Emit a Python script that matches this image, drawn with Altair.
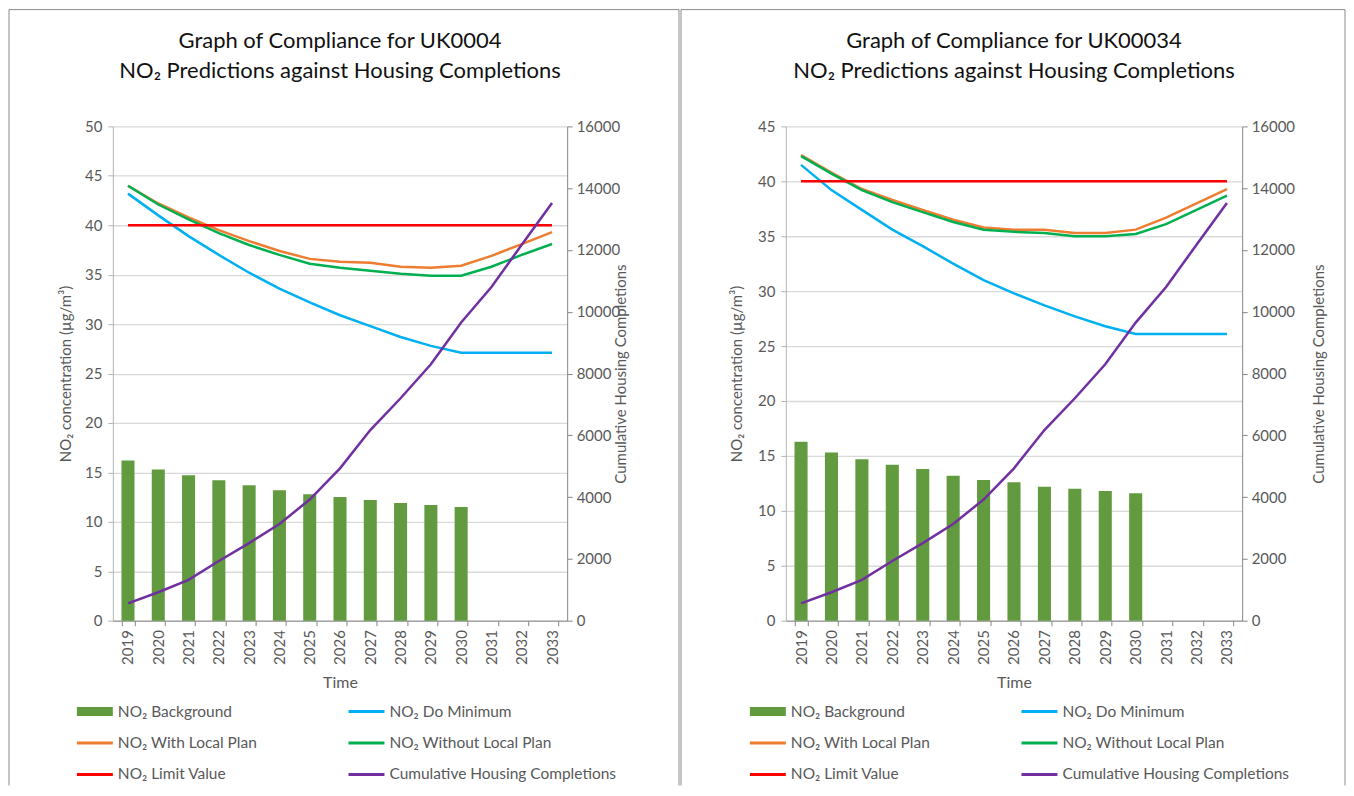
import altair as alt
import pandas as pd

# ---------------- data ----------------
YEARS = ["2019", "2020", "2021", "2022", "2023", "2024", "2025", "2026",
         "2027", "2028", "2029", "2030", "2031", "2032", "2033"]

Y_TICKS_A = [0, 5, 10, 15, 20, 25, 30, 35, 40, 45, 50]
Y_TICKS_B = [0, 5, 10, 15, 20, 25, 30, 35, 40, 45]
H_TICKS = [0, 2000, 4000, 6000, 8000, 10000, 12000, 14000, 16000]

SERIES = ["NO₂ Background", "NO₂ Do Minimum", "NO₂ With Local Plan",
          "NO₂ Without Local Plan", "NO₂ Limit Value",
          "Cumulative Housing Completions"]

TITLE_A = ["Graph of Compliance for UK0004", "NO₂ Predictions against Housing Completions"]
TITLE_B = ["Graph of Compliance for UK00034", "NO₂ Predictions against Housing Completions"]

# UK0004
BG_A = [16.2, 15.3, 14.7, 14.2, 13.7, 13.2, 12.8, 12.5, 12.2, 11.9, 11.7, 11.5]
DOMIN_A = [43.2, 41.0, 38.9, 37.0, 35.2, 33.6, 32.2, 30.9, 29.8, 28.7, 27.8, 27.1, 27.1, 27.1, 27.1]
WLP_A = [44.0, 42.2, 40.8, 39.5, 38.4, 37.4, 36.6, 36.3, 36.2, 35.8, 35.7, 35.9, 36.9, 38.1, 39.3]
WOLP_A = [44.0, 42.1, 40.6, 39.2, 38.0, 37.0, 36.1, 35.7, 35.4, 35.1, 34.9, 34.9, 35.8, 37.0, 38.1]
LIMIT_A = [40, 40, 40, 40, 40, 40, 40, 40, 40, 40, 40, 40, 40, 40, 40]
HOUSING_A = [560, 920, 1320, 1930, 2510, 3130, 3920, 4930, 6170, 7200, 8300, 9650, 10800, 12170, 13520]

# UK00034
BG_B = [16.3, 15.3, 14.7, 14.2, 13.8, 13.2, 12.8, 12.6, 12.2, 12.0, 11.8, 11.6]
DOMIN_B = [41.5, 39.2, 37.4, 35.6, 34.1, 32.5, 31.0, 29.8, 28.7, 27.7, 26.8, 26.1, 26.1, 26.1, 26.1]
WLP_B = [42.4, 40.8, 39.3, 38.3, 37.4, 36.5, 35.8, 35.6, 35.6, 35.3, 35.3, 35.6, 36.7, 38.0, 39.3]
WOLP_B = [42.3, 40.7, 39.2, 38.1, 37.2, 36.3, 35.6, 35.4, 35.3, 35.0, 35.0, 35.2, 36.1, 37.4, 38.7]
LIMIT_B = [40, 40, 40, 40, 40, 40, 40, 40, 40, 40, 40, 40, 40, 40, 40]
HOUSING_B = [560, 920, 1320, 1930, 2510, 3130, 3920, 4930, 6170, 7200, 8300, 9650, 10800, 12170, 13520]

# ---------------- style ----------------
COLORS = ["#629B3F", "#00B0F0", "#ED7D31", "#00B050", "#FF0000", "#7030A0"]
FONT = "Lato"
GREY = "#595959"
FRAME = "#8c8c8c"
PLOT_H = 495


def panel(title, bg, domin, wlp, wolp, limit, housing, yticks, width, fr_left, fr_right,
          ltitle_x, rtitle_x):
    ymax = yticks[-1]
    n = len(YEARS)
    bars_df = pd.DataFrame({"year": YEARS[:len(bg)], "value": bg})
    lines_df = pd.DataFrame({
        "year": YEARS * 4,
        "series": [SERIES[1]] * n + [SERIES[2]] * n + [SERIES[3]] * n + [SERIES[4]] * n,
        "order": [1] * n + [2] * n + [3] * n + [4] * n,
        "value": domin + wlp + wolp + limit,
    })
    house_df = pd.DataFrame({"year": YEARS, "value": housing})
    leg_df = pd.DataFrame({"name": SERIES,
                           "row": [i // 2 for i in range(len(SERIES))],
                           "col": [i % 2 for i in range(len(SERIES))]})

    def xs():
        return alt.Scale(type="band", domain=YEARS, paddingInner=0.57, paddingOuter=0.285)

    cscale = alt.Scale(domain=SERIES, range=COLORS)

    bars = alt.Chart(bars_df).mark_bar(color=COLORS[0]).encode(
        x=alt.X("year:N", scale=xs(), axis=alt.Axis(
            title="Time", labelAngle=270, labelAlign="right", labelBaseline="middle",
            tickBand="extent", tickSize=5, labelPadding=4, domainColor="#868686",
            tickColor="#868686", labelColor=GREY, labelFont=FONT, labelFontSize=15,
            titleFont=FONT, titleFontSize=16, titleFontWeight="normal", titleColor=GREY,
            titlePadding=10, grid=False)),
        y=alt.Y("value:Q", scale=alt.Scale(domain=[0, ymax], nice=False), axis=alt.Axis(
            orient="left", values=yticks, grid=True, gridColor="#d9d9d9", gridWidth=1.3,
            domainColor="#b3b3b3", tickColor="#b3b3b3", tickSize=5, labelPadding=6,
            labelColor=GREY, labelFont=FONT, labelFontSize=15,
            title="NO₂ concentration (µg/m³)", titleFont=FONT, titleFontSize=15,
            titleFontWeight="normal", titleColor=GREY, titleX=ltitle_x,
            titleBaseline="middle")),
    )

    lines = alt.Chart(lines_df).mark_line(strokeWidth=2.5).encode(
        x=alt.X("year:N", scale=xs(), axis=None),
        y=alt.Y("value:Q", scale=alt.Scale(domain=[0, ymax], nice=False), axis=None),
        color=alt.Color("series:N", scale=cscale, legend=None),
        order="order:Q",
    )

    house = alt.Chart(house_df).mark_line(strokeWidth=2.5, color=COLORS[5]).encode(
        x=alt.X("year:N", scale=xs(), axis=None),
        y=alt.Y("value:Q", scale=alt.Scale(domain=[0, H_TICKS[-1]], nice=False), axis=alt.Axis(
            orient="right", values=H_TICKS, format="d", grid=False, domainColor="#868686",
            tickColor="#868686", tickSize=5, labelPadding=4, labelColor=GREY,
            labelFont=FONT, labelFontSize=15, title="Cumulative Housing Completions",
            titleAngle=270, titleBaseline="middle", titleX=rtitle_x, titleFont=FONT,
            titleFontSize=15, titleFontWeight="normal", titleColor=GREY)),
    )

    lx = alt.X("col:Q", scale=alt.Scale(domain=[0, 1], range=[-18, 254]), axis=None)
    ly = alt.Y("row:Q", scale=alt.Scale(domain=[0, 2], range=[586, 649]), axis=None)
    lc = alt.Color("name:N", scale=cscale, legend=None)

    leg_bar = alt.Chart(leg_df.iloc[:1]).mark_tick(
        orient="horizontal", size=36, thickness=9, opacity=1).encode(x=lx, y=ly, color=lc)
    leg_line = alt.Chart(leg_df.iloc[1:]).mark_tick(
        orient="horizontal", size=36, thickness=3, opacity=1).encode(x=lx, y=ly, color=lc)
    leg_text = alt.Chart(leg_df).mark_text(align="left", baseline="middle", dx=23,
                                           font=FONT, fontSize=15.5, color=GREY).encode(
        x=lx, y=ly, text="name:N")

    one = pd.DataFrame({"k": [0]})
    t1 = alt.Chart(pd.DataFrame({"t": [title[0]]})).mark_text(
        font=FONT, fontSize=22, color="#111111", align="center", baseline="middle").encode(
        x=alt.value(width / 2), y=alt.value(-86), text="t:N")
    t2 = alt.Chart(pd.DataFrame({"t": [title[1]]})).mark_text(
        font=FONT, fontSize=22, color="#111111", align="center", baseline="middle").encode(
        x=alt.value(width / 2), y=alt.value(-55), text="t:N")

    frame = alt.layer(
        alt.Chart(one).mark_rule(color=FRAME, strokeWidth=1).encode(
            x=alt.value(fr_left), x2=alt.value(fr_right), y=alt.value(-117)),
        alt.Chart(one).mark_rule(color=FRAME, strokeWidth=1).encode(
            x=alt.value(fr_left), y=alt.value(-117), y2=alt.value(660)),
        alt.Chart(one).mark_rule(color=FRAME, strokeWidth=1).encode(
            x=alt.value(fr_right), y=alt.value(-117), y2=alt.value(660)),
    )

    return alt.layer(bars, lines, house, leg_bar, leg_line, leg_text, t1, t2, frame).resolve_scale(
        x="independent", y="independent", color="independent"
    ).properties(width=width, height=PLOT_H)


left = panel(TITLE_A, BG_A, DOMIN_A, WLP_A, WOLP_A, LIMIT_A,
             HOUSING_A, Y_TICKS_A, 455, -104, 567, -47, 53)
right = panel(TITLE_B, BG_B, DOMIN_B, WLP_B, WOLP_B, LIMIT_B,
              HOUSING_B, Y_TICKS_B, 457, -105, 560, -49, 76)

chart = alt.hconcat(left, right, spacing=0).properties(padding=0).configure_view(stroke=None)

chart.save("out.html", embed_options={"renderer": "svg", "actions": False})
